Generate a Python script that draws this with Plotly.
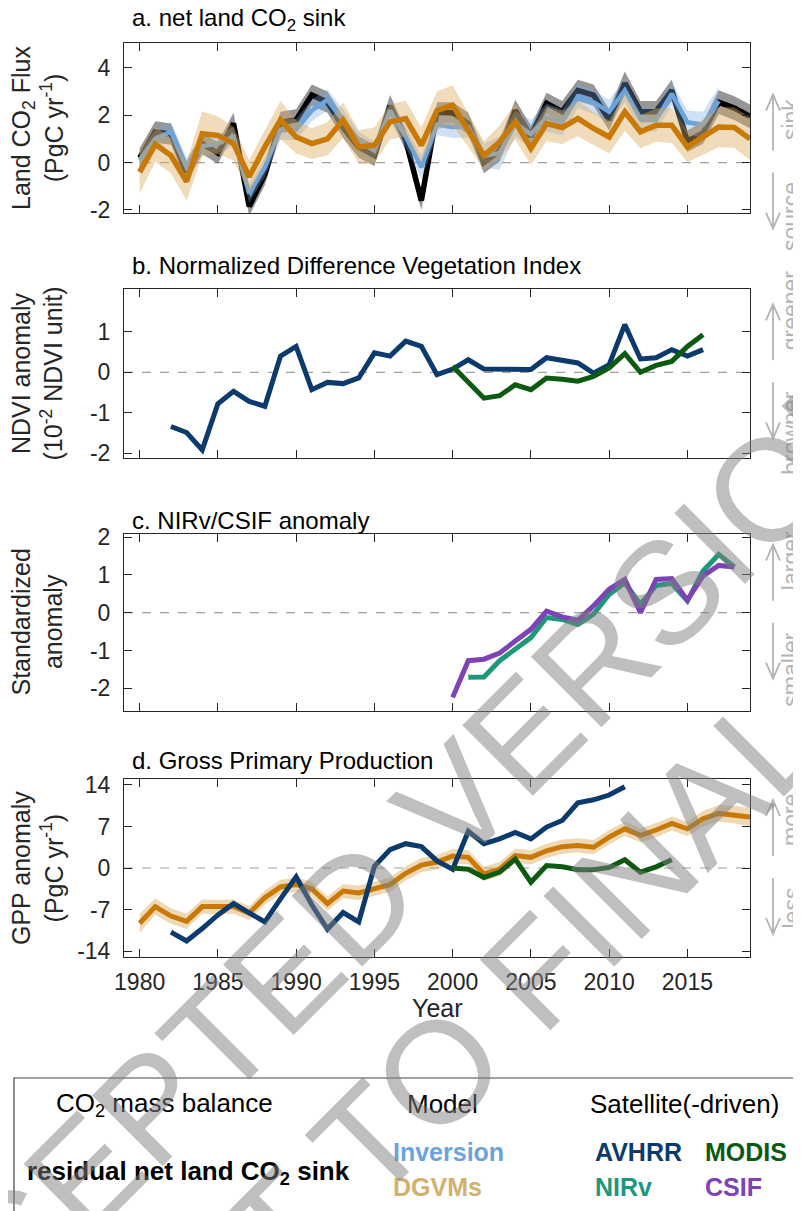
import plotly.graph_objects as go

W, H = 801, 1211          # target screenshot size
OFF = 8                   # default page (body) margin of the html page
FW, FH = W - OFF, H - OFF  # figure size so that it fills the window exactly
FONT = "Liberation Sans, Arial, Helvetica, sans-serif"

# ---------------- data ----------------
years = list(range(1980, 2020))

# a. net land CO2 sink (PgC/yr)
residual_sink = [0.2, 1.3, 1.2, -0.4, 0.8, 0.4, 1.65, -1.85, -0.5, 1.7,
                 1.8, 2.85, 2.55, 1.5, 0.65, 0.3, 2.4, 0.95, -1.6, 2.1,
                 2.1, 1.65, 0.0, 0.5, 2.2, 1.1, 2.5, 2.15, 3.05, 2.85,
                 1.8, 3.35, 2.15, 2.15, 3.05, 0.9, 1.25, 2.55, 2.3, 1.95]
residual_unc = [0.4, 0.45, 0.45, 0.45, 0.45, 0.45, 0.45, 0.4, 0.45, 0.45,
                0.45, 0.45, 0.45, 0.45, 0.45, 0.45, 0.45, 0.45, 0.4, 0.45,
                0.45, 0.45, 0.45, 0.45, 0.45, 0.45, 0.45, 0.45, 0.45, 0.45,
                0.45, 0.5, 0.45, 0.45, 0.45, 0.45, 0.45, 0.5, 0.5, 0.5]
inv_years = list(range(1980, 2018))
inversion_sink = [0.1, 1.0, 1.3, -0.2, 0.7, 0.8, 1.1, -1.3, -0.2, 1.4,
                  1.4, 2.2, 2.65, 1.8, 0.9, 0.5, 2.2, 1.1, -0.2, 1.6,
                  1.5, 1.5, 0.3, 0.4, 1.65, 1.2, 1.9, 1.7, 2.8, 2.55,
                  2.15, 3.05, 1.85, 1.8, 2.9, 1.7, 1.6, 2.6]
inversion_unc = [0.35, 0.4, 0.4, 0.4, 0.4, 0.4, 0.4, 0.4, 0.4, 0.45,
                 0.45, 0.45, 0.45, 0.45, 0.4, 0.4, 0.45, 0.45, 0.5, 0.45,
                 0.45, 0.45, 0.5, 0.7, 0.55, 0.6, 0.6, 0.55, 0.5, 0.5,
                 0.5, 0.5, 0.5, 0.5, 0.5, 0.5, 0.55, 0.6]
dgvm_sink = [-0.4, 0.77, 0.3, -0.8, 1.22, 1.15, 0.8, -0.6, 0.66, 1.8,
             1.08, 0.8, 1.0, 1.8, 0.66, 0.73, 1.72, 1.86, 0.73, 2.2,
             2.42, 1.37, 0.3, 0.87, 1.72, 0.6, 1.65, 1.48, 1.86, 1.44,
             1.08, 2.14, 1.3, 1.58, 1.58, 0.66, 1.08, 1.5, 1.48, 1.0]
dgvm_sink_unc = [0.9, 0.75, 0.75, 0.8, 0.95, 0.8, 0.7, 0.7, 0.7, 0.8,
                 0.7, 0.65, 0.7, 0.75, 0.7, 0.75, 0.75, 0.75, 0.75, 0.8,
                 0.85, 0.7, 0.6, 0.7, 0.75, 0.7, 0.75, 0.7, 0.75, 0.7,
                 0.7, 0.8, 0.7, 0.7, 0.75, 0.65, 0.75, 0.85, 0.85, 0.9]

# b. NDVI anomaly (10^-2 NDVI unit)
ndvi_avhrr_years = list(range(1982, 2017))
ndvi_avhrr = [-1.34, -1.49, -1.92, -0.78, -0.47, -0.72, -0.84, 0.40, 0.64, -0.43,
              -0.25, -0.28, -0.14, 0.48, 0.40, 0.77, 0.64, -0.06, 0.08, 0.31,
              0.08, 0.07, 0.08, 0.07, 0.36, 0.31, 0.23, -0.02, 0.19, 1.18,
              0.33, 0.36, 0.56, 0.40, 0.56]
ndvi_modis_years = list(range(2000, 2017))
ndvi_modis = [0.15, -0.25, -0.64, -0.58, -0.31, -0.43, -0.14, -0.17, -0.22, -0.10,
              0.11, 0.46, 0.0, 0.17, 0.27, 0.64, 0.93]

# c. NIRv / CSIF standardized anomaly
csif_years = list(range(2000, 2019))
csif = [-2.24, -1.27, -1.23, -1.07, -0.75, -0.44, 0.04, -0.11, -0.2, 0.18,
        0.62, 0.88, 0.0, 0.88, 0.9, 0.33, 0.97, 1.25, 1.21]
nirv_years = list(range(2001, 2019))
nirv = [-1.71, -1.70, -1.27, -0.97, -0.66, -0.13, -0.18, -0.31, -0.04, 0.48,
        0.79, 0.22, 0.72, 0.77, 0.31, 1.1, 1.54, 1.21]

# d. GPP anomaly (PgC/yr)
gpp_dgvm = [-9.3, -6.5, -8.1, -9.0, -6.5, -6.6, -6.5, -7.6, -5.0, -3.2,
            -2.8, -3.5, -6.0, -3.9, -4.2, -3.5, -2.8, -0.9, 0.5, 1.0,
            2.0, 1.8, -1.0, -0.2, 2.1, 1.8, 2.9, 3.6, 3.8, 3.5,
            5.2, 6.6, 5.5, 6.4, 7.5, 6.6, 8.3, 9.2, 9.0, 8.6]
gpp_dgvm_unc = [1.6, 1.4, 1.3, 1.3, 1.2, 1.2, 1.2, 1.2, 1.2, 1.2,
                1.2, 1.2, 1.2, 1.2, 1.2, 1.2, 1.2, 1.2, 1.2, 1.2,
                1.2, 1.2, 1.2, 1.2, 1.2, 1.2, 1.2, 1.2, 1.2, 1.2,
                1.2, 1.2, 1.2, 1.2, 1.2, 1.2, 1.3, 1.4, 1.5, 1.6]
gpp_avhrr_years = list(range(1982, 2012))
gpp_avhrr = [-10.8, -12.3, -10.2, -7.9, -6.0, -7.5, -9.1, -5.2, -1.5, -6.2,
             -10.3, -7.5, -9.1, 0.3, 3.1, 4.1, 3.6, 1.2, -0.2, 6.2,
             4.1, 4.9, 6.0, 4.9, 6.9, 8.0, 11.0, 11.5, 12.3, 13.7]
gpp_modis_years = list(range(2000, 2015))
gpp_modis = [0.0, -0.2, -1.6, -0.7, 1.5, -2.4, 0.4, 0.2, -0.3, -0.3,
             0.1, 1.4, -0.7, 0.2, 1.4]

x_ticks = [1980, 1985, 1990, 1995, 2000, 2005, 2010, 2015]

# ---------------- styles ----------------
C_BLACK = "#000000"
C_INV = "#6ba3dc"
C_DGVM = "#c97a06"
C_DGVM_TXT = "#d4b06e"
C_AVHRR = "#0b3a6c"
C_MODIS = "#0c5a12"
C_NIRV = "#1f977a"
C_CSIF = "#7d43b6"
C_AXIS = "#262626"
C_SIDE = "#b4b4b4"

panels = [
    dict(top=43, bottom=213, rng=[-2.13, 5.05], ticks=[-2, 0, 2, 4],
         title="a. net land CO<sub>2</sub> sink", ty=19,
         ylab="Land CO<sub>2</sub> Flux<br>(PgC yr<sup>-1</sup>)",
         up="sink", down="source"),
    dict(top=289, bottom=458, rng=[-2.12, 2.06], ticks=[-2, -1, 0, 1],
         title="b. Normalized Difference Vegetation Index", ty=266,
         ylab="NDVI anomaly<br>(10<sup>-2</sup> NDVI unit)",
         up="greener", down="browner"),
    dict(top=534, bottom=711, rng=[-2.6, 2.08], ticks=[-2, -1, 0, 1, 2],
         title="c. NIRv/CSIF anomaly", ty=520,
         ylab="Standardized<br>anomaly",
         up="larger", down="smaller"),
    dict(top=779, bottom=957, rng=[-15, 15], ticks=[-14, -7, 0, 7, 14],
         title="d. Gross Primary Production", ty=760,
         ylab="GPP anomaly<br>(PgC yr<sup>-1</sup>)",
         up="more", down="less"),
]
X_LEFT, X_RIGHT = 124, 750


def px(x):
    """screen pixel x -> paper fraction"""
    return (x - OFF) / FW


def py(y):
    """screen pixel y -> paper fraction"""
    return 1 - (y - OFF) / FH


fig = go.Figure()


def ax_ids(i):
    s = "" if i == 0 else str(i + 1)
    return "x" + s, "y" + s


def add_band(i, xs, ys, unc, color):
    xa, ya = ax_ids(i)
    upper = [v + u for v, u in zip(ys, unc)]
    lower = [v - u for v, u in zip(ys, unc)]
    fig.add_trace(go.Scatter(x=list(xs) + list(xs)[::-1], y=upper + lower[::-1],
                             fill="toself", fillcolor=color, mode="lines",
                             line=dict(width=0), hoverinfo="skip",
                             xaxis=xa, yaxis=ya, showlegend=False))


def add_line(i, xs, ys, color, width=5):
    xa, ya = ax_ids(i)
    fig.add_trace(go.Scatter(x=xs, y=ys, mode="lines",
                             line=dict(color=color, width=width),
                             xaxis=xa, yaxis=ya, showlegend=False))


# panel a
add_band(0, years, residual_sink, residual_unc, "rgba(80,80,80,0.6)")
add_line(0, years, residual_sink, C_BLACK, 5.5)
add_band(0, inv_years, inversion_sink, inversion_unc, "rgba(120,170,225,0.35)")
add_line(0, inv_years, inversion_sink, C_INV, 4.5)
add_band(0, years, dgvm_sink, dgvm_sink_unc, "rgba(220,170,90,0.42)")
add_line(0, years, dgvm_sink, C_DGVM, 5.5)
# panel b
add_line(1, ndvi_avhrr_years, ndvi_avhrr, C_AVHRR, 5)
add_line(1, ndvi_modis_years, ndvi_modis, C_MODIS, 5)
# panel c
add_line(2, nirv_years, nirv, C_NIRV, 5)
add_line(2, csif_years, csif, C_CSIF, 5)
# panel d
add_band(3, years, gpp_dgvm, gpp_dgvm_unc, "rgba(220,170,90,0.45)")
add_line(3, years, gpp_dgvm, C_DGVM, 5)
add_line(3, gpp_avhrr_years, gpp_avhrr, C_AVHRR, 5)
add_line(3, gpp_modis_years, gpp_modis, C_MODIS, 5)

layout = dict(
    template="none",
    width=FW, height=FH, autosize=False,
    margin=dict(l=0, r=0, t=0, b=0, pad=0, autoexpand=False),
    paper_bgcolor="white", plot_bgcolor="white",
    font=dict(family=FONT, color="black", size=22),
    showlegend=False,
)

annotations = []
shapes = []

for i, p in enumerate(panels):
    s = "" if i == 0 else str(i + 1)
    last = (i == len(panels) - 1)
    layout["xaxis" + s] = dict(
        domain=[px(X_LEFT), px(X_RIGHT)], range=[1979, 2019],
        anchor="y" + s, tickmode="array", tickvals=x_ticks,
        ticktext=[str(t) for t in x_ticks], showticklabels=last,
        ticks="inside", ticklen=8, tickwidth=1, tickcolor=C_AXIS,
        showline=True, linecolor=C_AXIS, linewidth=1, mirror="allticks",
        showgrid=False, zeroline=False, automargin=False,
        tickfont=dict(size=23, color=C_AXIS, family=FONT),
        ticklabelstandoff=4,
    )
    layout["yaxis" + s] = dict(
        domain=[py(p["bottom"]), py(p["top"])], range=p["rng"],
        anchor="x" + s, tickmode="array", tickvals=p["ticks"],
        ticktext=[str(t) for t in p["ticks"]],
        ticks="inside", ticklen=8, tickwidth=1, tickcolor=C_AXIS,
        showline=True, linecolor=C_AXIS, linewidth=1, mirror="allticks",
        showgrid=False, zeroline=False, automargin=False,
        tickfont=dict(size=23, color=C_AXIS, family=FONT),
        ticklabelstandoff=8,
    )
    shapes.append(dict(type="line", xref="x" + s + " domain", x0=0, x1=1,
                       yref="y" + s, y0=0, y1=0,
                       line=dict(color="#a0a0a0", width=1.2, dash="dash"), layer="below"))
    annotations.append(dict(text=p["title"], xref="paper", yref="paper",
                            x=px(130), y=py(p["ty"]), xanchor="left", yanchor="middle",
                            showarrow=False, font=dict(size=24, color="black")))
    mid = (p["top"] + p["bottom"]) / 2
    annotations.append(dict(text=p["ylab"], xref="paper", yref="paper",
                            x=px(37), y=py(mid), xanchor="center", yanchor="middle",
                            textangle=-90, showarrow=False,
                            font=dict(size=25, color=C_AXIS)))
    r0, r1 = p["rng"]
    zero_px = p["top"] + (r1 - 0) / (r1 - r0) * (p["bottom"] - p["top"])
    annotations.append(dict(text=p["up"], xref="paper", yref="paper",
                            x=px(791), y=py(zero_px - 20), xanchor="center",
                            yanchor="bottom", textangle=-90, showarrow=False,
                            font=dict(size=23, color=C_SIDE)))
    annotations.append(dict(text=p["down"], xref="paper", yref="paper",
                            x=px(791), y=py(zero_px + 18), xanchor="center",
                            yanchor="top", textangle=-90, showarrow=False,
                            font=dict(size=23, color=C_SIDE)))
    ax_x = 773
    for (y0, y1) in [(zero_px - 12, zero_px - 68), (zero_px + 10, zero_px + 66)]:
        d = 1 if y1 > y0 else -1
        hx, hy = 7, 16
        path = (f"M {px(ax_x)},{py(y0)} L {px(ax_x)},{py(y1)} "
                f"M {px(ax_x - hx)},{py(y1 - d * hy)} L {px(ax_x)},{py(y1)} "
                f"L {px(ax_x + hx)},{py(y1 - d * hy)}")
        shapes.append(dict(type="path", xref="paper", yref="paper", path=path,
                           line=dict(color=C_SIDE, width=1.8)))

# x-axis title
annotations.append(dict(text="Year", xref="paper", yref="paper",
                        x=px((X_LEFT + X_RIGHT) / 2), y=py(1008), xanchor="center",
                        yanchor="middle", showarrow=False,
                        font=dict(size=25, color=C_AXIS)))

# legend box
shapes.append(dict(type="rect", xref="paper", yref="paper",
                   x0=px(14), x1=px(795), y0=py(1240), y1=py(1078),
                   line=dict(color="#444444", width=1.2), fillcolor="rgba(0,0,0,0)"))


def leg(text, x, y, color="black", bold=False, size=25, anchor="left"):
    t = f"<b>{text}</b>" if bold else text
    annotations.append(dict(text=t, xref="paper", yref="paper", x=px(x), y=py(y),
                            xanchor=anchor, yanchor="middle", showarrow=False,
                            font=dict(size=size, color=color)))


leg("CO<sub>2</sub> mass balance", 54, 1104, size=26)
leg("Model", 405, 1104, size=26)
leg("Satellite(-driven)", 588, 1104, size=26)
leg("residual net land CO<sub>2</sub> sink", 25, 1172, bold=True, size=26)
leg("Inversion", 391, 1152, color=C_INV, bold=True, size=25)
leg("DGVMs", 391, 1187, color=C_DGVM_TXT, bold=True, size=25)
leg("AVHRR", 593, 1152, color=C_AVHRR, bold=True, size=25)
leg("MODIS", 703, 1152, color=C_MODIS, bold=True, size=25)
leg("NIRv", 593, 1187, color=C_NIRV, bold=True, size=25)
leg("CSIF", 703, 1187, color=C_CSIF, bold=True, size=25)

# watermark
annotations.append(dict(text="ACCEPTED VERSION", xref="paper", yref="paper",
                        x=px(358), y=py(900), xanchor="center", yanchor="middle",
                        textangle=-45, showarrow=False,
                        font=dict(size=145, color="rgba(128,128,128,0.5)")))
annotations.append(dict(text="SUBJECT TO FINAL EDITS", xref="paper", yref="paper",
                        x=px(485), y=py(1025), xanchor="center", yanchor="middle",
                        textangle=-45, showarrow=False,
                        font=dict(size=145, color="rgba(128,128,128,0.5)")))

layout["annotations"] = annotations
layout["shapes"] = shapes
fig.update_layout(**layout)

fig.write_html("out.html")
